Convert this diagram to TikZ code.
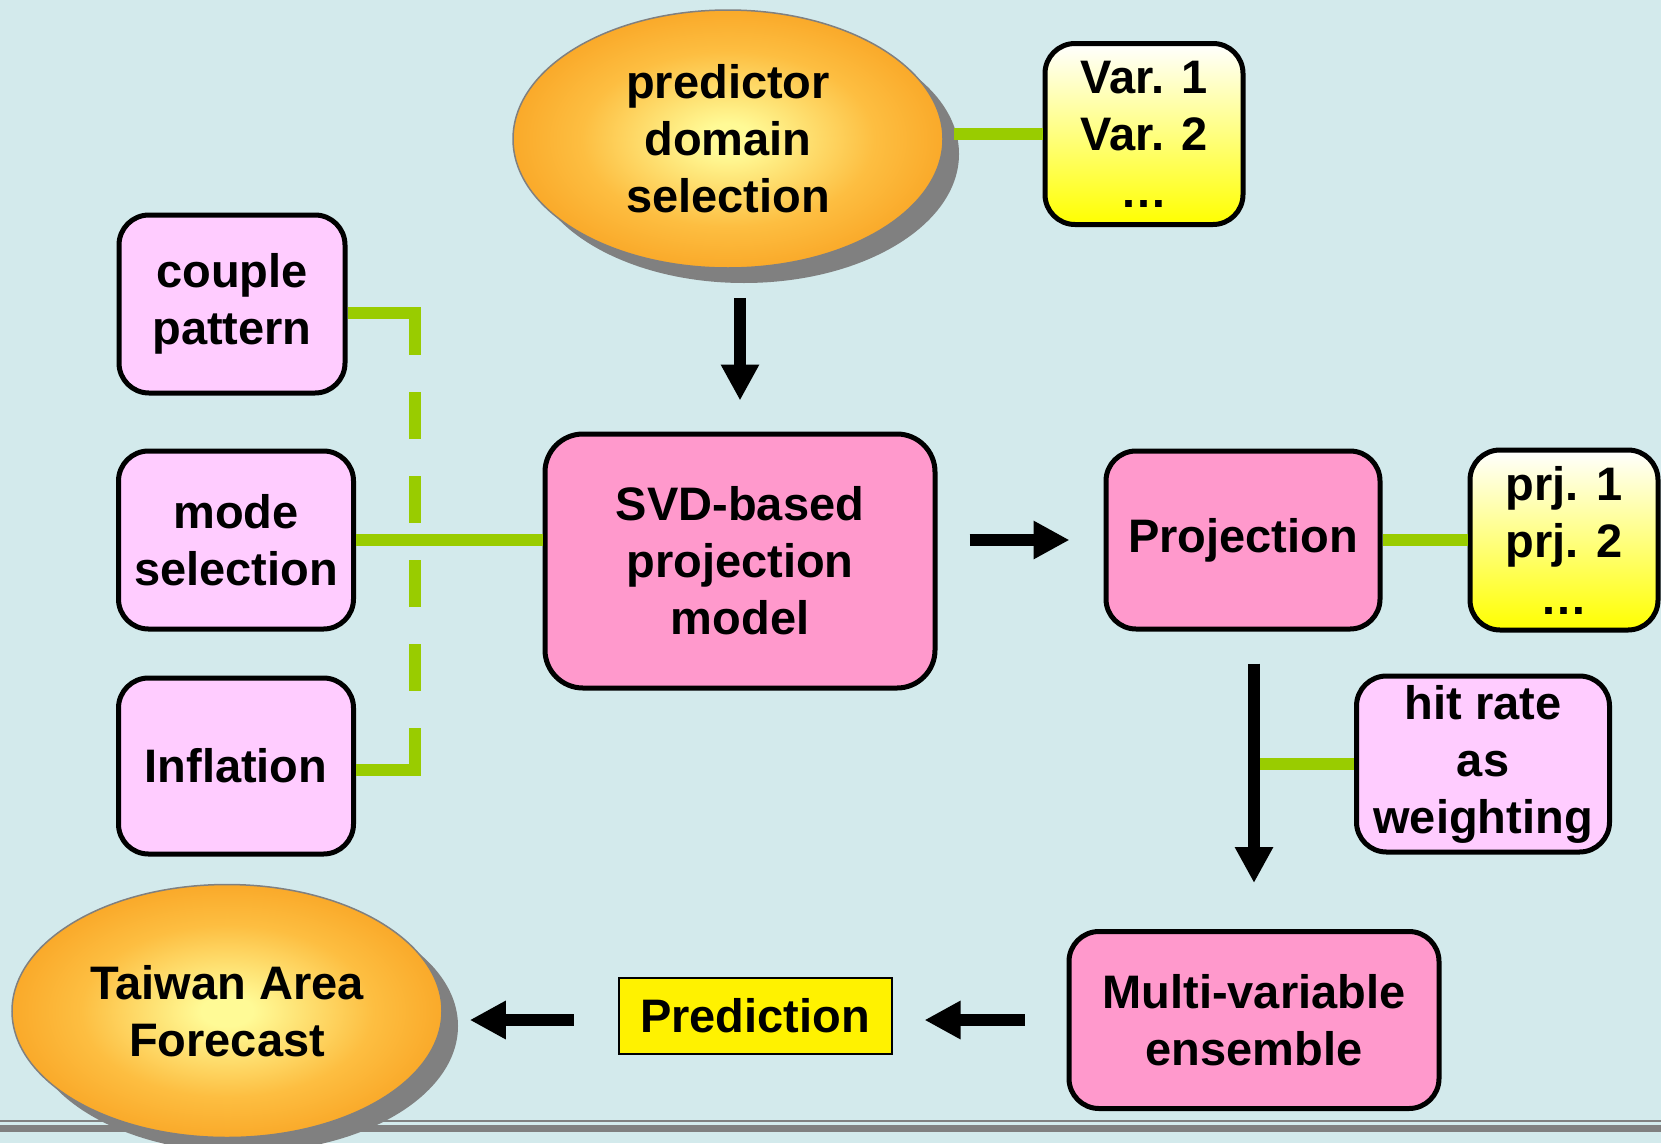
\documentclass[tikz,border=0pt]{standalone}
\usepackage{fontspec}
\setmainfont{Liberation Sans}
\usetikzlibrary{shapes.geometric,arrows.meta,shadows}
\definecolor{bgblue}{RGB}{211,234,236}
\definecolor{linkgreen}{RGB}{153,204,0}
\definecolor{boxpink}{RGB}{255,153,204}
\definecolor{boxlilac}{RGB}{255,204,255}
\definecolor{orbin}{RGB}{255,250,150}
\definecolor{orbmid}{RGB}{253,190,65}
\definecolor{orbout}{RGB}{247,152,22}
\pgfdeclareradialshading{orbshade}{\pgfpoint{0bp}{0bp}}{color(0bp)=(orbin); color(3bp)=(orbin); color(17bp)=(orbmid); color(32bp)=(orbout); color(50bp)=(orbout)}
\begin{document}
\begin{tikzpicture}[x=1pt,y=-1pt,
    every node/.style={font=\bfseries\fontsize{47}{57}\selectfont,align=center,inner sep=0pt},
    orb/.style={ellipse,draw=gray,line width=1.5pt,shade,shading=orbshade,
        drop shadow={shadow xshift=16pt,shadow yshift=-15pt,fill=gray,opacity=1}},
    tile/.style={draw,line width=5pt,rounded corners=30pt},
    pinkbox/.style={tile,fill=boxpink},
    lilacbox/.style={tile,fill=boxlilac},
    listbox/.style={tile,top color=white,bottom color=yellow},
    link/.style={draw=linkgreen,line width=12pt},
    flow/.style={line width=12pt,-{Triangle[width=36pt,length=36pt]}}]
 \useasboundingbox (0,0) rectangle (1661,1143);
 \fill[bgblue] (0,0) rectangle (1661,1143);
 \fill[gray] (0,1120) rectangle (1661,1122);
 \fill[gray] (0,1125) rectangle (1661,1132);

 \node[orb,minimum width=430pt,minimum height=258pt] (pds) at (728,139) {predictor\\domain\\selection};
 \node[listbox,minimum width=198pt,minimum height=181pt] (vars) at (1144,134) {Var. 1\\Var. 2\\…};
 \node[lilacbox,minimum width=226pt,minimum height=178pt] (couple) at (232,304) {couple\\pattern};
 \node[lilacbox,minimum width=235pt,minimum height=178pt] (mode) at (236,540) {mode\\selection};
 \node[lilacbox,minimum width=235pt,minimum height=176pt] (infl) at (236,766) {Inflation};
 \node[pinkbox,rounded corners=38pt,minimum width=390pt,minimum height=254pt] (svd) at (740,561) {SVD-based\\projection\\model};
 \node[pinkbox,minimum width=274pt,minimum height=178pt] (proj) at (1243,540) {Projection};
 \node[listbox,minimum width=188pt,minimum height=180pt] (prjs) at (1564,540) {prj. 1\\prj. 2\\…};
 \node[lilacbox,minimum width=253pt,minimum height=176pt] (hit) at (1483,764) {hit rate\\as\\weighting};
 \node[pinkbox,minimum width=370pt,minimum height=177pt] (ens) at (1254,1020) {Multi-variable\\ensemble};
 \node[draw,line width=2pt,fill=yellow,minimum width=273pt,minimum height=76pt] (pred) at (755,1016) {Prediction};
 \node[orb,minimum width=430pt,minimum height=253pt] (tfc) at (227,1011) {Taiwan Area\\Forecast};

 \coordinate (bustop) at (415,313);
 \coordinate (busbot) at (415,770);
 \draw[link] (couple.east |- bustop) -- ([xshift=6pt]bustop);
 \draw[link,dash pattern=on 47pt off 37pt] ([yshift=5pt]bustop) -- (busbot);
 \draw[link] (infl.east |- busbot) -- ([xshift=6pt]busbot);
 \draw[link] (mode.east) -- (mode.east -| svd.west);
 \draw[link,shorten <=10pt] (vars.west -| pds.east) -- (vars.west);
 \draw[link] (proj.east) -- (prjs.west);
 \draw[link] (hit.west) -- (hit.west -| ens.north);

 \draw[flow,shorten <=29pt,shorten >=31pt] (pds.south -| svd.north) -- (svd.north);
 \draw[flow,shorten <=32pt,shorten >=34pt] (svd.east |- proj.west) -- (proj.west);
 \draw[flow,shorten <=32pt,shorten >=46pt] (proj.south -| ens.north) -- (ens.north);
 \draw[flow,shorten <=42pt,shorten >=32pt] (ens.west) -- (ens.west -| pred.east);
 \draw[flow,shorten <=44pt,shorten >=27pt] (ens.west -| pred.west) -- (ens.west -| tfc.east);
\end{tikzpicture}
\end{document}
